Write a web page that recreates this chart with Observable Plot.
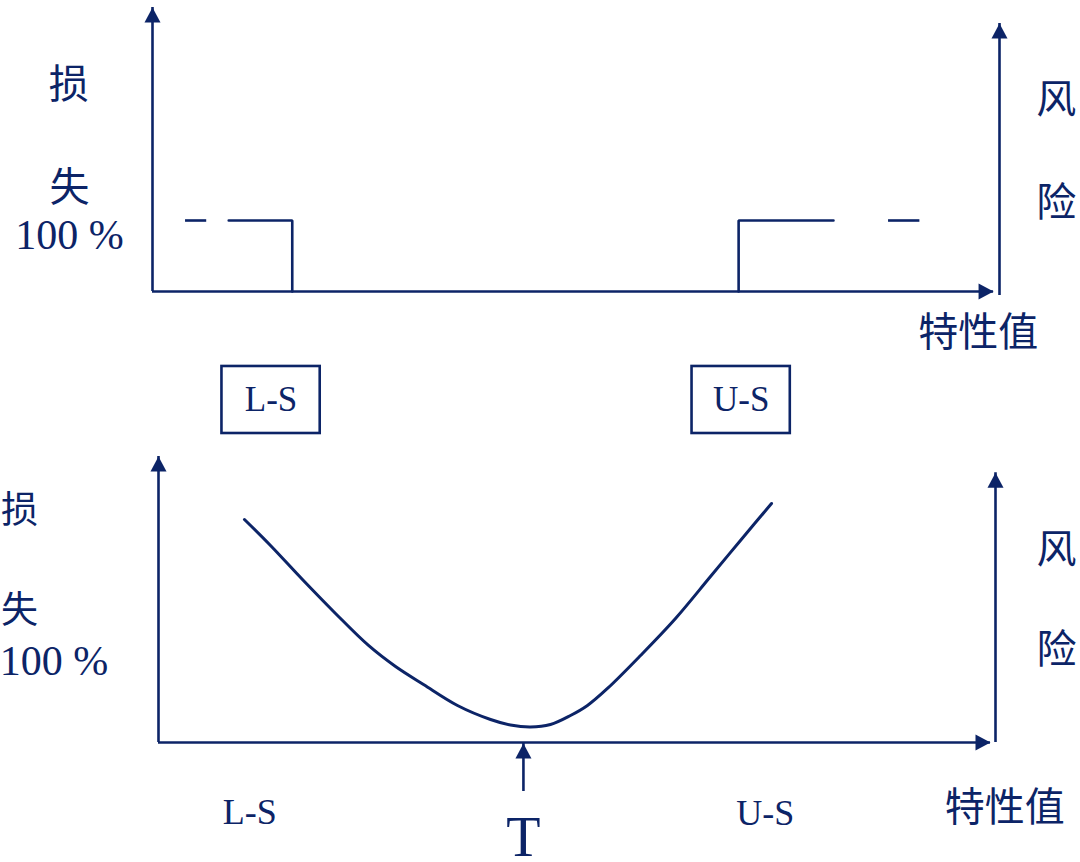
<!DOCTYPE html>
<html>
<head>
<meta charset="utf-8">
<script src="https://cdn.jsdelivr.net/npm/d3@7"></script>
<script src="https://cdn.jsdelivr.net/npm/@observablehq/plot@0.6"></script>
<style>
  html, body { margin: 0; padding: 0; background: #fff; }
  #wrap { position: relative; width: 1080px; height: 862px; overflow: hidden; }
  #top, #bottom { position: absolute; left: 0; }
  #top { top: 0; }
  #bottom { top: 440px; }
  svg { display: block; overflow: visible; }
</style>
</head>
<body>
<div id="wrap"><div id="top"></div><div id="bottom"></div></div>
<script>
// ---------- data: top panel (step loss function) ----------
const topStepLeft = [{x: 9.0, y: 100}, {x: 16.5, y: 100}, {x: 16.5, y: 0}];
const topStepLeftDash = [{x1: 3.9, x2: 6.4, y: 100}];
const topStepRight = [{x: 69.2, y: 0}, {x: 69.2, y: 100}, {x: 80.4, y: 100}];
const topStepRightDash = [{x1: 86.9, x2: 90.6, y: 100}];
const topAxesV = [{x: 0, y1: 0, y2: 400}, {x: 100, y1: -5.6, y2: 377.5}];
const topAxesH = [{y: 0, x1: 0, x2: 99.3}];
const topHeadsUp = [{x: 0, y: 400}, {x: 100, y: 377.5}];
const topHeadsRight = [{x: 99.3, y: 0}];
const topCjkLabels = [
  {text: "损", x: -9.9, y: 291},
  {text: "失", x: -9.8, y: 145},
  {text: "风", x: 106.7, y: 269},
  {text: "险", x: 106.7, y: 125},
  {text: "特性值", x: 97.5, y: -58.5}
];
const topPctLabel = [{text: "100 %", x: -9.8, y: 79}];
const specBoxes = [{text: "L-S", x: 14.0, y: -152.8}, {text: "U-S", x: 69.5, y: -152.8}];

// ---------- data: bottom panel (loss curve around target T) ----------
const curveX = [10.27, 13.38, 17.20, 21.15, 25.09, 28.32, 31.66, 35.72, 39.67, 42.05, 44.44, 46.83, 49.22, 51.25, 53.64, 57.59, 61.77, 65.95, 69.53, 73.24];
const curveY = [275.3, 243.2, 201.2, 159.3, 119.8, 93.8, 71.6, 45.7, 28.4, 21.6, 19.1, 22.2, 33.3, 45.7, 66.7, 107.4, 153.1, 204.9, 249.4, 295.1];
const botAxesV = [{x: 0, y1: 0, y2: 353}, {x: 100, y1: 0, y2: 333}, {x: 43.6, y1: -60.5, y2: -1.2}];
const botAxesH = [{y: 0, x1: 0, x2: 99.4}];
const botHeadsUp = [{x: 0, y: 353}, {x: 100, y: 333}, {x: 43.6, y: -1.2}];
const botHeadsRight = [{x: 99.4, y: 0}];
const botCjkLeft = [
  {text: "损", x: -16.6, y: 286},
  {text: "失", x: -16.6, y: 161.7}
];
const botCjkRight = [
  {text: "风", x: 107.3, y: 238},
  {text: "险", x: 107.3, y: 113.6},
  {text: "特性值", x: 101.1, y: -80.9}
];
const botPctLabel = [{text: "100 %", x: -12.5, y: 100}];
const botSpecLabels = [{text: "L-S", x: 10.9, y: -86.4}, {text: "U-S", x: 72.5, y: -87.5}];
const targetLabel = [{text: "T", x: 43.6, y: -118}];

// ---------- styling ----------
const INK = "#0c2467";
const FONT = "'Liberation Serif', 'Noto Sans CJK SC', serif";
const SW = 2.6;
const headUp = {draw(ctx) { ctx.moveTo(0, 0); ctx.lineTo(8, 15); ctx.lineTo(-8, 15); ctx.closePath(); }};
const headRight = {draw(ctx) { ctx.moveTo(0, 0); ctx.lineTo(-15, -8); ctx.lineTo(-15, 8); ctx.closePath(); }};
const bw = 5.8, bh = 47.2; // box half-size in data units

const textOpts = (size) => ({x: "x", y: "y", text: "text", fill: INK, fontSize: size, fontFamily: FONT, textAnchor: "middle", lineAnchor: "middle"});

const topPlot = Plot.plot({
  width: 1080, height: 440, margin: 0,
  x: {type: "linear", domain: [0, 100], range: [152, 999], axis: null},
  y: {type: "linear", domain: [0, 100], range: [291, 220], axis: null},
  style: {background: "transparent", overflow: "visible"},
  marks: [
    Plot.ruleX(topAxesV, {x: "x", y1: "y1", y2: "y2", stroke: INK, strokeWidth: SW}),
    Plot.ruleY(topAxesH, {y: "y", x1: "x1", x2: "x2", stroke: INK, strokeWidth: SW}),
    Plot.dot(topHeadsUp, {x: "x", y: "y", symbol: headUp, r: 6, fill: INK, stroke: "none"}),
    Plot.dot(topHeadsRight, {x: "x", y: "y", symbol: headRight, r: 6, fill: INK, stroke: "none"}),
    Plot.line(topStepLeft, {x: "x", y: "y", stroke: INK, strokeWidth: SW, strokeLinejoin: "miter"}),
    Plot.line(topStepRight, {x: "x", y: "y", stroke: INK, strokeWidth: SW, strokeLinejoin: "miter"}),
    Plot.ruleY(topStepLeftDash, {y: "y", x1: "x1", x2: "x2", stroke: INK, strokeWidth: SW}),
    Plot.ruleY(topStepRightDash, {y: "y", x1: "x1", x2: "x2", stroke: INK, strokeWidth: SW}),
    Plot.text(topCjkLabels, textOpts(40)),
    Plot.text(topPctLabel, textOpts(42)),
    Plot.rect(specBoxes, {x1: d => d.x - bw, x2: d => d.x + bw, y1: d => d.y - bh, y2: d => d.y + bh, fill: "none", stroke: INK, strokeWidth: SW}),
    Plot.text(specBoxes, textOpts(35))
  ]
});
document.getElementById("top").appendChild(topPlot);

const curve = curveX.map((x, i) => ({x, y: curveY[i]}));
const botPlot = Plot.plot({
  width: 1080, height: 422, margin: 0,
  x: {type: "linear", domain: [0, 100], range: [158, 995], axis: null},
  y: {type: "linear", domain: [0, 100], range: [302, 221], axis: null},
  style: {background: "transparent", overflow: "visible"},
  marks: [
    Plot.ruleX(botAxesV, {x: "x", y1: "y1", y2: "y2", stroke: INK, strokeWidth: SW}),
    Plot.ruleY(botAxesH, {y: "y", x1: "x1", x2: "x2", stroke: INK, strokeWidth: SW}),
    Plot.dot(botHeadsUp, {x: "x", y: "y", symbol: headUp, r: 6, fill: INK, stroke: "none"}),
    Plot.dot(botHeadsRight, {x: "x", y: "y", symbol: headRight, r: 6, fill: INK, stroke: "none"}),
    Plot.line(curve, {x: "x", y: "y", curve: "catmull-rom", stroke: INK, strokeWidth: 3}),
    Plot.text(botCjkLeft, textOpts(37)),
    Plot.text(botCjkRight, textOpts(40)),
    Plot.text(botPctLabel, textOpts(42)),
    Plot.text(botSpecLabels, textOpts(36)),
    Plot.text(targetLabel, textOpts(56))
  ]
});
document.getElementById("bottom").appendChild(botPlot);
</script>
</body>
</html>
